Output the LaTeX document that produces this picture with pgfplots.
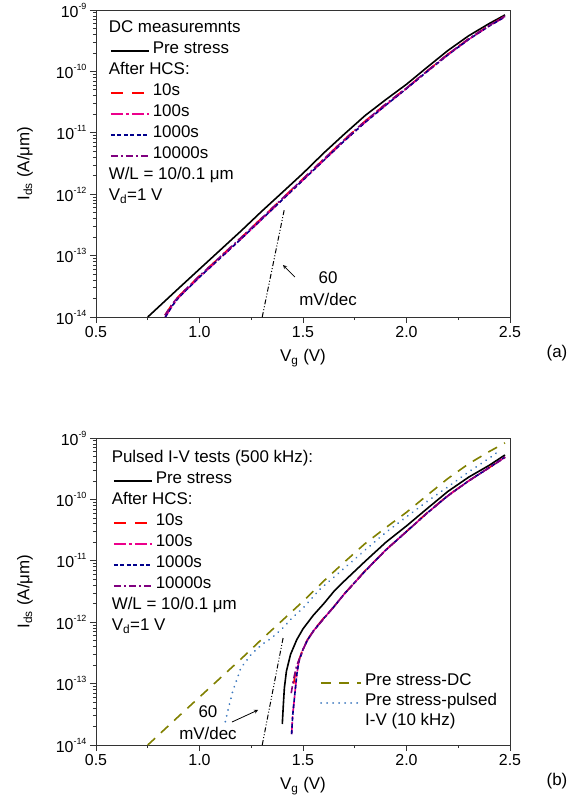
\documentclass[border=0pt]{standalone}
\usepackage{fontspec}
\setmainfont{Liberation Sans}
\usepackage{pgfplots}
\usepackage{pgfplotstable}
\pgfplotsset{compat=1.18}

\definecolor{olivedc}{RGB}{128,128,0}
\definecolor{pulseblue}{RGB}{60,120,190}
\definecolor{navyb}{RGB}{0,0,140}
\definecolor{purp}{RGB}{128,0,128}

% (a) DC, pre stress (also the DC reference in (b))
\pgfplotstableread{
v i
0.75 1.00e-14
0.9 2.95e-14
1.0 6.03e-14
1.1 1.23e-13
1.2 2.51e-13
1.3 5.25e-13
1.4 1.07e-12
1.5 2.19e-12
1.6 4.68e-12
1.7 9.55e-12
1.8 1.91e-11
1.9 3.47e-11
2.0 6.17e-11
2.1 1.17e-10
2.2 2.19e-10
2.3 3.80e-10
2.4 6.03e-10
2.476 8.32e-10
}\preA

\pgfplotstableread{
v i
0.833 1.07e-14
0.87 1.66e-14
0.9 2.19e-14
1.0 4.68e-14
1.1 9.55e-14
1.2 1.95e-13
1.3 4.07e-13
1.4 8.51e-13
1.5 1.78e-12
1.6 3.72e-12
1.7 7.76e-12
1.8 1.55e-11
1.9 2.95e-11
2.0 5.37e-11
2.1 1.02e-10
2.2 1.91e-10
2.3 3.39e-10
2.4 5.62e-10
2.476 7.94e-10
}\hcsAa

\pgfplotstableread{
v i
0.835 1.00e-14
0.87 1.55e-14
0.9 2.09e-14
1.0 4.47e-14
1.1 9.12e-14
1.2 1.86e-13
1.3 3.89e-13
1.4 8.13e-13
1.5 1.70e-12
1.6 3.55e-12
1.7 7.41e-12
1.8 1.48e-11
1.9 2.82e-11
2.0 5.25e-11
2.1 1.00e-10
2.2 1.86e-10
2.3 3.31e-10
2.4 5.50e-10
2.476 7.76e-10
}\hcsAb

% (b) pulsed 500 kHz
\pgfplotstableread{
v i
1.400 2.2e-14
1.405 4.5e-14
1.41 8.5e-14
1.42 1.6e-13
1.44 3.0e-13
1.47 5.2e-13
1.50 7.8e-13
1.55 1.3e-12
1.60 2.0e-12
1.65 3.2e-12
1.70 4.7e-12
1.80 9.8e-12
1.90 2.0e-11
2.00 3.7e-11
2.10 7.1e-11
2.20 1.35e-10
2.30 2.3e-10
2.40 3.6e-10
2.476 5.3e-10
}\preB

\pgfplotstableread{
v i
1.445 1.5e-14
1.45 3.0e-14
1.46 6.5e-14
1.47 1.4e-13
1.48 2.3e-13
1.50 3.6e-13
1.52 5.0e-13
1.55 7.2e-13
1.60 1.15e-12
1.65 1.8e-12
1.70 2.9e-12
1.80 6.8e-12
1.90 1.5e-11
2.00 3.0e-11
2.10 6.0e-11
2.20 1.15e-10
2.30 2.0e-10
2.40 3.3e-10
2.476 4.9e-10
}\hcsB

\pgfplotstableread{
v i
1.455 1.0e-13
1.465 1.6e-13
1.48 2.4e-13
1.50 3.7e-13
1.52 5.1e-13
1.55 7.3e-13
1.60 1.17e-12
1.65 1.8e-12
1.70 2.9e-12
1.80 6.9e-12
1.90 1.5e-11
2.00 3.0e-11
2.10 6.1e-11
2.20 1.16e-10
2.30 2.0e-10
2.40 3.3e-10
2.476 4.9e-10
}\hcsBten

\pgfplotstableread{
v i
1.443 7.0e-14
1.455 1.2e-13
1.47 2.0e-13
1.48 2.4e-13
1.50 3.6e-13
1.52 5.0e-13
1.55 7.1e-13
1.60 1.14e-12
1.65 1.8e-12
1.70 2.9e-12
1.80 6.8e-12
1.90 1.5e-11
2.00 3.0e-11
2.10 6.0e-11
2.20 1.14e-10
2.30 2.0e-10
2.40 3.3e-10
2.476 4.8e-10
}\hcsBtenk

% (b) pre stress, pulsed 10 kHz
\pgfplotstableread{
v i
1.125 2.4e-14
1.14 4.0e-14
1.16 7.4e-14
1.2 1.8e-13
1.25 3.0e-13
1.3 4.3e-13
1.35 5.6e-13
1.4 7.9e-13
1.45 1.2e-12
1.5 1.7e-12
1.58 3.4e-12
1.7 7.6e-12
1.8 1.5e-11
1.9 2.9e-11
2.0 5.2e-11
2.1 9.3e-11
2.2 1.6e-10
2.3 2.8e-10
2.4 4.7e-10
2.443 6.0e-10
}\pulsedB

\tikzset{
  prestress/.style={black, line width=1.6bp},
  s10/.style={red, line width=1.6bp, dash pattern=on 12bp off 9bp},
  s100/.style={magenta, line width=1.6bp, dash pattern=on 12bp off 3bp on 3bp off 3bp},
  s1000/.style={navyb, line width=1.6bp, dash pattern=on 4bp off 2.5bp},
  s10000/.style={purp, line width=1.6bp, dash pattern=on 7bp off 3bp on 2bp off 3bp},
  ideal/.style={black, line width=1bp, dash pattern=on 5bp off 2bp on 1bp off 2bp on 1bp off 2bp},
}

\pgfplotsset{
  width=414bp, height=307bp, scale only axis,
  xmin=0.5, xmax=2.5, ymin=1e-14, ymax=1e-9,
  xtick={0.5,1,1.5,2,2.5}, xticklabels={0.5,1.0,1.5,2.0,2.5},
  minor x tick num=1,
  log number format basis/.code 2 args={10\raisebox{0.5em}{\fontsize{9}{9}\selectfont\pgfmathprintnumber{#2}}},
  /pgf/number format/assume math mode=true,
  tick align=outside, tick pos=left,
  major tick length=6bp, minor tick length=3bp,
  axis line style={line width=1bp, black!80},
  tick style={black!80, line width=0.8bp},
  tick label style={font=\fontsize{16}{19}\selectfont},
  every axis x label/.style={at={(axis description cs:0.5,-0.1336)}, anchor=center},
  every axis y label/.style={at={(axis description cs:-0.1715,0.5)}, rotate=90, anchor=center},
  legend cell align=left,
  legend image code/.code={\draw[#1] (0bp,0bp) -- (38bp,0bp);},
  legend style={draw=none, fill=none, anchor=north west, inner sep=0pt, row sep=0pt,
    font=\fontsize{17}{20}\selectfont,
    nodes={inner ysep=0pt, inner xsep=3bp, text height=13bp, text depth=8bp}},
}

\begin{document}
\begin{tikzpicture}[font=\fontsize{17}{20}\selectfont]
\useasboundingbox (0,0) rectangle (585bp,-807bp);

% ---------------- (a) DC ----------------
\begin{axis}[ymode=log, yminorticks=true, at={(96bp,-317bp)}, anchor=south west,
  xlabel={V\textsubscript{g} (V)}, ylabel={I\textsubscript{ds} (A/μm)},
  legend style={at={(axis description cs:0.0338,0.969)}}]
\addlegendimage{empty legend}
\addlegendentry{\hspace{-44bp}DC measuremnts}
\addplot[prestress] table[x=v,y=i] {\preA};
\addlegendentry{Pre stress}
\addlegendimage{empty legend}
\addlegendentry{\hspace{-44bp}After HCS:}
\addplot[s10] table[x=v,y=i] {\hcsAa};
\addlegendentry{10s}
\addplot[s100] table[x=v,y=i] {\hcsAb};
\addlegendentry{100s}
\addplot[s1000] table[x=v,y=i] {\hcsAb};
\addlegendentry{1000s}
\addplot[s10000] table[x=v,y=i] {\hcsAa};
\addlegendentry{10000s}
\addlegendimage{empty legend}
\addlegendentry{\hspace{-44bp}W/L = 10/0.1 μm}
\addlegendimage{empty legend}
\addlegendentry{\hspace{-44bp}V\textsubscript{d}=1 V}
\addplot[ideal, forget plot] coordinates {(1.303,1.0e-14) (1.41,5.7e-13)};
\node[align=center, font=\fontsize{17}{22}\selectfont] at (axis cs:1.621,2.86e-14) {60\\mV/dec};
\draw[-stealth, line width=0.8bp] (axis cs:1.461,4.48e-14) -- (axis cs:1.403,7.03e-14);
\end{axis}
\node at (557bp,-353bp) {(a)};

% ---------------- (b) pulsed ----------------
\begin{axis}[ymode=log, yminorticks=true, at={(96bp,-745bp)}, anchor=south west,
  xlabel={V\textsubscript{g} (V)}, ylabel={I\textsubscript{ds} (A/μm)},
  legend style={at={(axis description cs:0.041,0.9625)}}]
\addlegendimage{empty legend}
\addlegendentry{\hspace{-44bp}Pulsed I-V tests (500 kHz):}
\addplot[prestress] table[x=v,y=i] {\preB};
\addlegendentry{Pre stress}
\addlegendimage{empty legend}
\addlegendentry{\hspace{-44bp}After HCS:}
\addplot[s10] table[x=v,y=i] {\hcsBten};
\addlegendentry{10s}
\addplot[s100] table[x=v,y=i] {\hcsB};
\addlegendentry{100s}
\addplot[s1000] table[x=v,y=i] {\hcsB};
\addlegendentry{1000s}
\addplot[s10000] table[x=v,y=i] {\hcsBtenk};
\addlegendentry{10000s}
\addlegendimage{empty legend}
\addlegendentry{\hspace{-44bp}W/L = 10/0.1 μm}
\addlegendimage{empty legend}
\addlegendentry{\hspace{-44bp}V\textsubscript{d}=1 V}
\addplot[ideal, forget plot] coordinates {(1.303,1.0e-14) (1.405,5.8e-13)};
\node[align=center, font=\fontsize{17}{22}\selectfont] at (axis cs:1.041,2.28e-14) {60\\mV/dec};
\draw[-stealth, line width=0.8bp] (axis cs:1.157,2.37e-14) -- (axis cs:1.283,3.72e-14);
\end{axis}
\node at (557bp,-781bp) {(b)};

\begin{axis}[ymode=log, at={(96bp,-745bp)}, anchor=south west, hide axis,
  legend image code/.code={\draw[#1] (0bp,0bp) -- (40bp,0bp);},
  legend style={at={(axis description cs:0.541,0.236)},
    nodes={inner ysep=0pt, inner xsep=3bp, text height=13bp, text depth=7bp}}]
\addplot[olivedc, line width=1.6bp, dash pattern=on 10bp off 8bp] table[x=v,y=i] {\preA};
\addlegendentry{Pre stress-DC}
\addplot[pulseblue, line width=2bp, dash pattern=on 0.01bp off 6bp, line cap=round] table[x=v,y=i] {\pulsedB};
\addlegendentry{Pre stress-pulsed}
\addlegendimage{empty legend}
\addlegendentry{I-V (10 kHz)}
\end{axis}
\end{tikzpicture}
\end{document}
